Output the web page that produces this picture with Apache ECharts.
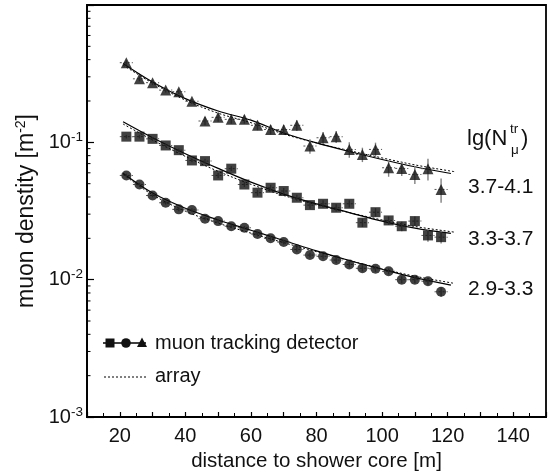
<!DOCTYPE html>
<html><head><meta charset="utf-8">
<script src="https://cdn.jsdelivr.net/npm/echarts@6/dist/echarts.min.js"></script>
<style>html,body{margin:0;padding:0;background:#fff}#c{width:548px;height:476px}</style>
</head><body><div id="c"></div>
<script>
// ---- data ----
const distances = [22,26,30,34,38,42,46,50,54,58,62,66,70,74,78,82,86,90,94,98,102,106,110,114,118];
const densHigh = [0.380,0.290,0.272,0.240,0.234,0.199,0.143,0.152,0.147,0.147,0.133,0.124,0.124,0.133,0.094,0.108,0.110,0.0888,0.0816,0.0888,0.0653,0.0646,0.0584,0.0643,0.0454];
const densMid  = [0.110,0.110,0.106,0.0949,0.0877,0.0738,0.0730,0.0574,0.0643,0.0493,0.0430,0.0467,0.0442,0.0395,0.0349,0.0357,0.0334,0.0357,0.0260,0.0310,0.0270,0.0245,0.0267,0.0210,0.0204];
const densLow  = [0.0574,0.0493,0.0410,0.0363,0.0325,0.0322,0.0278,0.0267,0.0245,0.0239,0.0215,0.0200,0.0188,0.0166,0.0151,0.0148,0.0139,0.0129,0.0121,0.0120,0.0115,0.0100,0.0100,0.00975,0.00816];
const relErrHigh = [0.04,0.04,0.04,0.04,0.04,0.04,0.07,0.07,0.07,0.07,0.08,0.08,0.08,0.09,0.12,0.10,0.10,0.13,0.12,0.12,0.14,0.12,0.15,0.18,0.20];
const relErrMid  = [0.03,0.03,0.03,0.03,0.03,0.03,0.04,0.04,0.04,0.04,0.05,0.05,0.05,0.05,0.06,0.06,0.06,0.06,0.07,0.07,0.07,0.08,0.08,0.10,0.10];
const relErrLow  = [0.03,0.03,0.03,0.03,0.03,0.03,0.03,0.03,0.03,0.03,0.04,0.04,0.04,0.04,0.04,0.04,0.05,0.05,0.05,0.05,0.05,0.06,0.06,0.06,0.08];
const binHalfWidth = 2;

const fitX     = [21,30,40,50,60,70,80,90,100,110,121];
const fitHigh  = [0.375,0.275,0.208,0.169,0.145,0.117,0.099,0.0857,0.0750,0.0664,0.0593];
const fitMid   = [0.141,0.108,0.0826,0.0646,0.0513,0.0420,0.0356,0.0308,0.0267,0.0237,0.0217];
const fitLow   = [0.0595,0.0427,0.0331,0.0272,0.0229,0.0193,0.0162,0.0138,0.0119,0.01035,0.00912];
const arrayX    = [21,30,40,50,60,70,80,90,100,110,122];
const arrayHigh = [0.365,0.270,0.203,0.163,0.139,0.115,0.099,0.0870,0.0770,0.0685,0.0612];
const arrayMid  = [0.136,0.104,0.0790,0.0615,0.0495,0.0410,0.0352,0.0308,0.0272,0.0244,0.0222];
const arrayLow  = [0.0585,0.0415,0.0315,0.0258,0.0218,0.0186,0.0160,0.0138,0.0120,0.0106,0.0094];

const xTickLabels = [20,40,60,80,100,120,140];
const yDecades = [0.001,0.01,0.1,1];
const groupLabels = ['3.7-4.1','3.3-3.7','2.9-3.3'];
const legendLabels = ['muon tracking detector','array'];

// ---- chart ----
const FONT = '"Liberation Sans", Arial, Helvetica, sans-serif';
const chart = echarts.init(document.getElementById('c'));
const pairs = (xs, ys) => xs.map((x, i) => [x, ys[i]]);
const errPairs = (ys, es) => distances.map((x, i) => [x, ys[i], es[i]]);

const yMinor = [];
yDecades.slice(0, 3).forEach(d => { for (let k = 2; k <= 9; k++) yMinor.push([10, +(k * d).toPrecision(3)]); });

function errRender(params, api) {
  const x = api.value(0), y = api.value(1), r = api.value(2);
  const a = api.coord([x, y * (1 + r)]), b = api.coord([x, y * (1 - r)]);
  const l = api.coord([x - binHalfWidth, y]), rr = api.coord([x + binHalfWidth, y]);
  return { type: 'group', children: [
    { type: 'line', shape: { x1: a[0], y1: a[1], x2: b[0], y2: b[1] }, style: { stroke: '#808080', lineWidth: 1.4 } },
    { type: 'line', shape: { x1: l[0], y1: l[1], x2: rr[0], y2: rr[1] }, style: { stroke: '#555', lineWidth: 1, lineDash: [2, 2] } }
  ]};
}
function errSeries(ys, es) {
  return { type: 'custom', data: errPairs(ys, es), renderItem: errRender, silent: true, z: 3,
    encode: { x: 0, y: 1 } };
}
function fitSeries(xs, ys, dotted) {
  return { type: 'line', data: pairs(xs, ys), smooth: 0.35, showSymbol: false, silent: true, z: 2,
    lineStyle: dotted ? { color: '#000', width: 1, type: [2, 2] } : { color: '#000', width: 1.2 } };
}
function markSeries(ys, symbol, size) {
  return { type: 'scatter', data: pairs(distances, ys), symbol, symbolSize: size, z: 4, silent: true,
    itemStyle: { color: '#111' } };
}

const txt = (text, x, y, size, align) => ({ type: 'text', x, y, style: { text, fill: '#111', font: `${size}px ${FONT}`, textAlign: align || 'left', textVerticalAlign: 'middle' } });

const option = {
  animation: false,
  backgroundColor: '#fff',
  grid: { left: 87, top: 5, width: 459, height: 412, show: true, borderColor: '#000', borderWidth: 1.8, containLabel: false, outerBoundsMode: 'none' },
  xAxis: {
    type: 'value', min: 10, max: 150, interval: 10,
    name: 'distance to shower core [m]', nameLocation: 'middle', nameGap: 34,
    nameTextStyle: { fontFamily: FONT, fontSize: 20.5, color: '#111' },
    axisLine: { lineStyle: { color: '#000', width: 1.8 } },
    axisTick: { inside: true, length: 5, lineStyle: { color: '#000', width: 1.2 } },
    minorTick: { show: true, splitNumber: 2, length: 4, lineStyle: { color: '#000', width: 1 } },
    splitLine: { show: false },
    axisLabel: { fontFamily: FONT, fontSize: 20, color: '#111', margin: 9,
      formatter: v => xTickLabels.includes(v) ? String(v) : '' }
  },
  yAxis: {
    type: 'log', logBase: 10, min: yDecades[0], max: yDecades[3],
    name: 'muon denstity [m{sup|-2}]', nameLocation: 'middle', nameGap: 48, nameRotate: 90,
    nameTextStyle: { fontFamily: FONT, fontSize: 23, color: '#111',
      rich: { sup: { fontFamily: FONT, fontSize: 14, color: '#111', padding: [0, 0, 11, 0] } } },
    axisLine: { lineStyle: { color: '#000', width: 1.8 } },
    axisTick: { inside: true, length: 7, lineStyle: { color: '#000', width: 1.2 } },
    minorTick: { show: false },
    splitLine: { show: false },
    axisLabel: { margin: 4, color: '#111',
      formatter: v => { const e = Math.round(Math.log10(v)); return e === 0 ? '' : '{b|10}{s|' + e + '}'; },
      rich: {
        b: { fontFamily: FONT, fontSize: 20, color: '#111' },
        s: { fontFamily: FONT, fontSize: 13.5, color: '#111', padding: [0, 0, 10, 0] }
      } }
  },
  series: [
    { type: 'custom', data: yMinor, silent: true, z: 5, encode: { x: 0, y: 1 },
      renderItem: (p, api) => { const c = api.coord([api.value(0), api.value(1)]);
        return { type: 'line', shape: { x1: c[0], y1: c[1], x2: c[0] + 3.5, y2: c[1] }, style: { stroke: '#000', lineWidth: 1 } }; } },
    fitSeries(fitX, fitHigh, false), fitSeries(arrayX, arrayHigh, true),
    fitSeries(fitX, fitMid, false), fitSeries(arrayX, arrayMid, true),
    fitSeries(fitX, fitLow, false), fitSeries(arrayX, arrayLow, true),
    errSeries(densHigh, relErrHigh), errSeries(densMid, relErrMid), errSeries(densLow, relErrLow),
    markSeries(densHigh, 'triangle', 11), markSeries(densMid, 'rect', 10), markSeries(densLow, 'circle', 10)
  ],
  graphic: [
    // legend
    { type: 'line', shape: { x1: 103, y1: 343, x2: 146, y2: 343 }, style: { stroke: '#000', lineWidth: 1.5 } },
    { type: 'rect', shape: { x: 105.5, y: 338.5, width: 9, height: 9 }, style: { fill: '#111' } },
    { type: 'circle', shape: { cx: 126, cy: 343, r: 4.8 }, style: { fill: '#111' } },
    { type: 'polygon', shape: { points: [[142, 337.5], [147, 347], [137, 347]] }, style: { fill: '#111' } },
    txt(legendLabels[0], 155, 343, 20),
    { type: 'line', shape: { x1: 104, y1: 377, x2: 146, y2: 377 }, style: { stroke: '#000', lineWidth: 1, lineDash: [2, 2] } },
    txt(legendLabels[1], 155, 376, 20),
    // group labels
    txt('lg(N', 467, 139, 22),
    txt('tr', 510, 129, 13.5),
    txt('\u03bc', 511, 150, 13.5),
    txt(')', 521, 139, 22),
    txt(groupLabels[0], 468, 187, 21),
    txt(groupLabels[1], 468, 239, 21),
    txt(groupLabels[2], 468, 289, 21)
  ]
};
chart.setOption(option);
</script>
</body></html>
